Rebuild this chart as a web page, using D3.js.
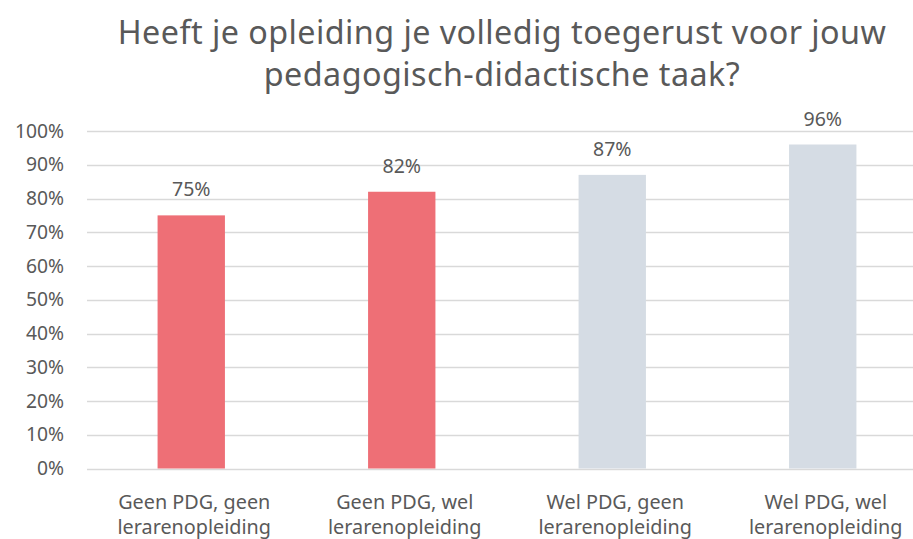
<!DOCTYPE html>
<html><head><meta charset="utf-8">
<script src="https://cdn.jsdelivr.net/npm/d3@7"></script>
<style>
html,body{margin:0;padding:0;background:#fff;}
svg{display:block;font-family:"Noto Sans",sans-serif;}
</style></head>
<body><svg id="chart" width="913" height="539"></svg>
<script>
const titleLines = ["Heeft je opleiding je volledig toegerust voor jouw", "pedagogisch-didactische taak?"];
const categories = [["Geen PDG, geen","lerarenopleiding"],["Geen PDG, wel","lerarenopleiding"],["Wel PDG, geen","lerarenopleiding"],["Wel PDG, wel","lerarenopleiding"]];
const values = [0.75, 0.82, 0.87, 0.96];
const barColors = ["#EE6F76","#EE6F76","#D5DCE4","#D5DCE4"];
const yTicks = [0,0.1,0.2,0.3,0.4,0.5,0.6,0.7,0.8,0.9,1.0];

const svg = d3.select("#chart");
const W = 913, H = 539;
const textColor = "#595959";

const x = d3.scaleBand().domain(d3.range(categories.length)).range([86, 928]).paddingInner(0.68).paddingOuter(0.34);
const y = d3.scaleLinear().domain([0,1]).range([468.5,131]);

// title
const title = svg.append("text").attr("text-anchor","middle").attr("fill",textColor).attr("font-size",32.3).attr("letter-spacing",0.45);
titleLines.forEach((t,i)=>title.append("tspan").attr("x",502).attr("y",44+i*42).text(t));

// gridlines
svg.append("g").selectAll("line").data(yTicks).join("line")
  .attr("x1",87).attr("x2",W).attr("y1",d=>Math.round(y(d))+0.5).attr("y2",d=>Math.round(y(d))+0.5)
  .attr("stroke","#D9D9D9").attr("stroke-width",1.3);

// y axis labels
const yAxis = d3.axisLeft(y).tickValues(yTicks).tickFormat(d3.format(".0%")).tickSize(0).tickPadding(0);
const ya = svg.append("g").attr("transform","translate(64,0)").call(yAxis);
ya.select(".domain").remove();
ya.selectAll("text").attr("fill",textColor).attr("font-size",19.3).attr("font-family","Noto Sans");

// bars
svg.append("g").selectAll("rect").data(values).join("rect")
  .attr("x",(d,i)=>x(i)).attr("width",x.bandwidth())
  .attr("y",d=>y(d)).attr("height",d=>y(0)-y(d))
  .attr("fill",(d,i)=>barColors[i]);

// value labels
svg.append("g").selectAll("text").data(values).join("text")
  .attr("x",(d,i)=>x(i)+x.bandwidth()/2).attr("y",d=>y(d)-19)
  .attr("text-anchor","middle").attr("fill",textColor).attr("font-size",19.5)
  .text(d=>d3.format(".0%")(d));

// category labels (one text per line)
const catG = svg.append("g");
categories.forEach((lines,i)=>{
  lines.forEach((l,j)=>catG.append("text")
    .attr("x",x(i)+x.bandwidth()/2 + 3).attr("y",509+j*25)
    .attr("text-anchor","middle").attr("fill",textColor).attr("font-size",19.8)
    .text(l));
});
</script></body></html>
